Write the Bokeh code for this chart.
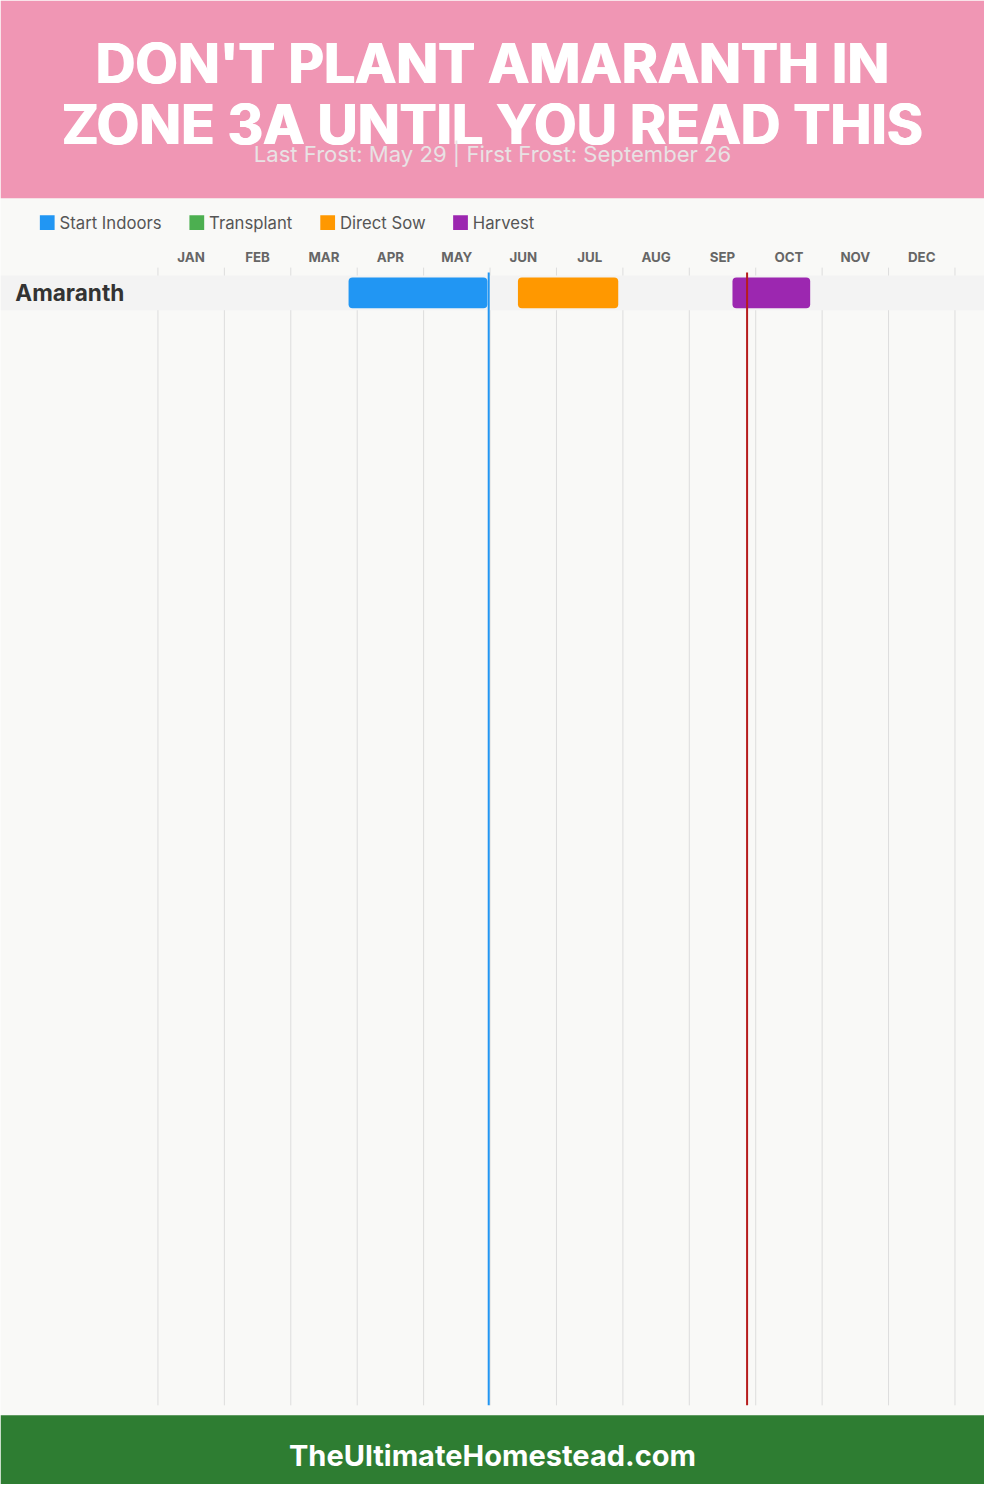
from bokeh.plotting import figure
from bokeh.models import Range1d, ColumnDataSource
from bokeh.core.properties import value
from bokeh.embed import file_html
from bokeh.resources import INLINE

# ---------------- data ----------------
title_lines = ["DON'T PLANT AMARANTH IN", "ZONE 3A UNTIL YOU READ THIS"]
subtitle = "Last Frost: May 29 | First Frost: September 26"
footer_text = "TheUltimateHomestead.com"
months = ["JAN", "FEB", "MAR", "APR", "MAY", "JUN",
          "JUL", "AUG", "SEP", "OCT", "NOV", "DEC"]
crops = ["Amaranth"]
stages = ["Start Indoors", "Transplant", "Direct Sow", "Harvest"]
stage_colors = ["#2196F3", "#4CAF50", "#FF9800", "#9C27B0"]
# bars: positions in months since Jan 1
bar_crop = ["Amaranth", "Amaranth", "Amaranth"]
bar_stage = ["Start Indoors", "Direct Sow", "Harvest"]
bar_start = [2.87, 5.42, 8.65]
bar_end = [4.96, 6.93, 9.82]
last_frost = 4.98   # May 29
first_frost = 8.87  # Sep 26

# ---------------- layout ----------------
W, H = 984, 1484
S = W / 1000.0
CHART_L, MONTH_W = 160.0, 67.5


def mx(px):
    return (px - CHART_L) / MONTH_W


def fs(v):
    return "%.1fpx" % (v * S)


X0, X1 = mx(0), mx(1000)
XC = (X0 + X1) / 2

p = figure(width=W, height=H, output_backend="svg", toolbar_location=None,
           x_range=Range1d(X0, X1), y_range=Range1d(1500, 0),
           min_border=0, min_border_left=0, min_border_right=0,
           min_border_top=0, min_border_bottom=0)
p.axis.visible = False
p.xgrid.visible = False
p.ygrid.visible = False
p.outline_line_color = None
p.background_fill_color = "#F9F9F7"
p.border_fill_color = "#F9F9F7"

FONT = value("Inter")

# header & footer bands
p.quad(left=[X0], right=[X1], top=[0], bottom=[200], color="#F096B4", line_width=0)
p.quad(left=[X0], right=[X1], top=[1430], bottom=[1500], color="#2E7D32", line_width=0)

# heavy title: draw with small offsets to thicken strokes
for dx in (-0.9, 0.0, 0.9):
    p.text(x=[XC, XC], y=[63, 125], text=title_lines, text_font=FONT, text_font_style="bold",
           text_font_size=fs(56), text_color="white", text_align="center",
           text_baseline="middle", x_offset=dx)
p.text(x=[XC], y=[155], text=[subtitle], text_font=FONT, text_font_size=fs(22.5),
       text_color="#E8E2E4", text_align="center", text_baseline="middle")
p.text(x=[XC], y=[1471], text=[footer_text], text_font=FONT, text_font_style="bold",
       text_font_size=fs(29.5), text_color="white", text_align="center", text_baseline="middle")

# legend
leg_x = [40, 192, 325, 460]
p.quad(left=[mx(v) for v in leg_x], right=[mx(v + 15) for v in leg_x],
       top=[217] * 4, bottom=[232] * 4, color=stage_colors, line_width=0)
p.text(x=[mx(v + 20) for v in leg_x], y=[225] * 4, text=stages, text_font=FONT,
       text_font_size=fs(17), text_color="#555555", text_align="left", text_baseline="middle")

# month labels
p.text(x=[i + 0.5 for i in range(12)], y=[259] * 12, text=months, text_font=FONT,
       text_font_style="bold", text_font_size=fs(13.5), text_color="#666666",
       text_align="center", text_baseline="middle")

# month grid lines
p.segment(x0=list(range(13)), y0=[270] * 13, x1=list(range(13)), y1=[1420] * 13,
          line_color="#DDDDDD", line_width=1)

# crop rows
ROW0, ROW_H = 295.5, 40
row_y = [ROW0 + i * ROW_H for i in range(len(crops))]
p.quad(left=[X0] * len(crops), right=[X1] * len(crops),
       top=[y - 17.5 for y in row_y], bottom=[y + 17.5 for y in row_y],
       color="#F3F3F3", line_width=0)
p.text(x=[mx(15)] * len(crops), y=row_y, text=crops, text_font=FONT, text_font_style="bold",
       text_font_size=fs(23), text_color="#333333", text_align="left", text_baseline="middle")

# bars
cmap = dict(zip(stages, stage_colors))
yc = [row_y[crops.index(c)] for c in bar_crop]
src = ColumnDataSource(dict(left=bar_start, right=bar_end,
                            top=[y - 15.5 for y in yc], bottom=[y + 15.5 for y in yc],
                            color=[cmap[s] for s in bar_stage]))
p.quad(left="left", right="right", top="top", bottom="bottom", color="color",
       line_width=0, border_radius=4, source=src)

# frost lines
p.segment(x0=[last_frost], y0=[275], x1=[last_frost], y1=[1420], line_color="#2196F3", line_width=2)
p.segment(x0=[first_frost], y0=[275], x1=[first_frost], y1=[1420], line_color="#B71C1C", line_width=2)

open("out.html", "w").write(file_html(p, INLINE))
